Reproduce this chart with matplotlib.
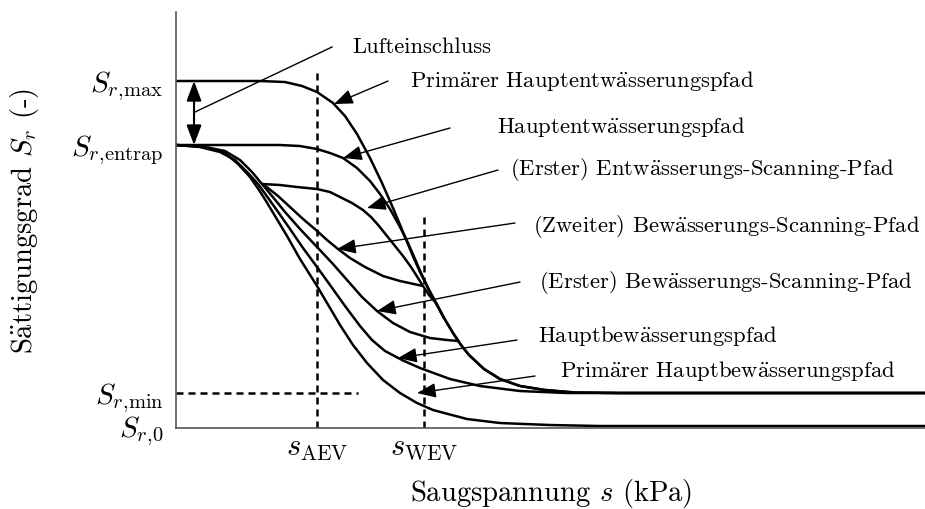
import numpy as np
import matplotlib
matplotlib.use("Agg")
import matplotlib.pyplot as plt
import matplotlib.transforms as mtransforms

plt.rcParams['font.family'] = ['cmr10', 'DejaVu Serif']
plt.rcParams['mathtext.fontset'] = 'cm'
plt.rcParams['axes.unicode_minus'] = False

# schematic units: suction s and degree of saturation Sr
sr_max, sr_entrap, sr_min, sr_0 = 3.47, 2.83, 0.35, 0.0
s_aev, s_wev = 1.41, 2.48

# common lower part of both main drainage paths
bundle_s = [2.52, 2.60, 2.68, 2.77, 2.85, 2.93, 3.08, 3.24, 3.44, 3.69, 3.99, 4.44, 7.49]
bundle_sr = [1.40, 1.25, 1.10, 0.95, 0.83, 0.73, 0.59, 0.49, 0.42, 0.38, 0.355, 0.35, 0.35]

# primary main drainage
pd_s = [0, 0.84, 1.09, 1.26, 1.41, 1.57, 1.69, 1.81, 1.94, 2.06, 2.17, 2.27, 2.36, 2.44] + bundle_s
pd_sr = [3.47, 3.47, 3.46, 3.42, 3.36, 3.25, 3.12, 2.94, 2.70, 2.45, 2.20, 1.96, 1.74, 1.56] + bundle_sr

# main drainage
md_s = [0, 1.04, 1.24, 1.41, 1.54, 1.67, 1.81, 1.94, 2.04, 2.14, 2.24, 2.32, 2.39, 2.45] + bundle_s
md_sr = [2.83, 2.83, 2.82, 2.79, 2.75, 2.70, 2.60, 2.47, 2.34, 2.19, 2.01, 1.85, 1.69, 1.55] + bundle_sr

# first drainage scanning path
ds1_s = [0.86, 1.04, 1.21, 1.41, 1.54, 1.64, 1.76, 1.87, 1.95, 2.03, 2.11, 2.19, 2.27, 2.35, 2.42, 2.47, 2.53, 2.60, 2.68]
ds1_sr = [2.44, 2.43, 2.41, 2.39, 2.36, 2.31, 2.25, 2.18, 2.11, 2.02, 1.92, 1.82, 1.72, 1.61, 1.50, 1.42, 1.33, 1.25, 1.10]

# second wetting scanning path
ws2_s = [2.47, 2.24, 2.07, 1.89, 1.74, 1.62, 1.51, 1.40, 1.27, 1.14, 1.02, 0.92, 0.86]
ws2_sr = [1.42, 1.47, 1.52, 1.61, 1.70, 1.79, 1.88, 1.98, 2.09, 2.21, 2.32, 2.40, 2.44]

# first wetting scanning path
ws1_s = [0, 0.29, 0.49, 0.64, 0.76, 0.86, 0.96, 1.09, 1.24, 1.41, 1.57, 1.71, 1.86, 2.01, 2.17, 2.34, 2.54, 2.71, 2.83]
ws1_sr = [2.83, 2.81, 2.77, 2.68, 2.56, 2.44, 2.32, 2.16, 1.99, 1.81, 1.64, 1.48, 1.31, 1.17, 1.05, 0.96, 0.90, 0.88, 0.87]

# main wetting
mw_s = [0, 0.24, 0.44, 0.59, 0.72, 0.82, 0.90, 1.00, 1.14, 1.27, 1.41, 1.54, 1.69, 1.84, 1.96, 2.09, 2.26, 2.44, 2.74, 3.04, 3.44, 3.91, 7.49]
mw_sr = [2.83, 2.81, 2.76, 2.68, 2.55, 2.44, 2.33, 2.19, 1.99, 1.80, 1.61, 1.43, 1.22, 1.02, 0.88, 0.77, 0.68, 0.60, 0.49, 0.42, 0.37, 0.35, 0.35]

# primary main wetting
pw_s = [0, 0.19, 0.34, 0.49, 0.62, 0.74, 0.83, 0.90, 0.99, 1.11, 1.24, 1.41, 1.54, 1.64, 1.77, 1.91, 2.07, 2.24, 2.41, 2.57, 2.91, 3.24, 3.74, 4.24, 7.49]
pw_sr = [2.83, 2.82, 2.80, 2.75, 2.64, 2.51, 2.38, 2.27, 2.12, 1.92, 1.69, 1.42, 1.20, 1.03, 0.83, 0.65, 0.48, 0.35, 0.25, 0.18, 0.09, 0.05, 0.03, 0.02, 0.02]

labels = ['Primärer Hauptentwässerungspfad', 'Hauptentwässerungspfad',
          '(Erster) Entwässerungs-Scanning-Pfad', '(Zweiter) Bewässerungs-Scanning-Pfad',
          '(Erster) Bewässerungs-Scanning-Pfad', 'Hauptbewässerungspfad',
          'Primärer Hauptbewässerungspfad']
label_pos = [(2.34, 3.47), (3.21, 3.01), (3.34, 2.59), (3.57, 2.02),
             (3.63, 1.46), (3.62, 0.92), (3.84, 0.57)]
arrow_tail = [(2.12, 3.47), (2.74, 3.00), (3.22, 2.58), (3.39, 2.05),
              (3.44, 1.46), (3.41, 0.88), (3.59, 0.52)]
arrow_tip = [(1.58, 3.24), (1.67, 2.70), (1.91, 2.20), (1.61, 1.79),
             (2.01, 1.17), (2.22, 0.70), (2.41, 0.35)]


def umlaut(t):
    # cmr10 has no ä, build it with a math accent in the same font
    return t.replace('ä', r'$\ddot{\mathrm{a}}$')


fig = plt.figure(figsize=(9.25, 5.09), dpi=100)
ax = fig.add_axes([0.1903, 0.1591, 0.8097, 0.8173])

lw = 1.8
for xs, ys in [(pd_s, pd_sr), (md_s, md_sr), (ds1_s, ds1_sr), (ws2_s, ws2_sr),
               (ws1_s, ws1_sr), (mw_s, mw_sr), (pw_s, pw_sr)]:
    ax.plot(xs, ys, color='black', lw=lw, solid_joinstyle='round', solid_capstyle='butt')

dash = dict(color='black', lw=1.8, dashes=(2.8, 2.0))
ax.plot([s_aev, s_aev], [sr_0, 3.55], **dash)
ax.plot([s_wev, s_wev], [sr_0, 2.16], **dash)
ax.plot([0, 1.82], [sr_min, sr_min], **dash)

head = dict(arrowstyle='-|>,head_length=1.15,head_width=0.45', color='black', lw=1.0,
            shrinkA=0, shrinkB=0, mutation_scale=10)
for txt, pos, tail, tip in zip(labels, label_pos, arrow_tail, arrow_tip):
    ax.annotate('', xy=tip, xytext=tail, arrowprops=head)
    ax.text(pos[0], pos[1], umlaut(txt), fontsize=16.3, va='center', ha='left')

# entrapped air
ax.annotate('', xy=(0.18, sr_max), xytext=(0.18, sr_entrap),
            arrowprops=dict(arrowstyle='<|-|>,head_length=1.2,head_width=0.45', color='black',
                            lw=1.5, shrinkA=0, shrinkB=0, mutation_scale=10))
ax.plot([0.19, 1.56], [3.16, 3.81], color='black', lw=1.0)
ax.text(1.76, 3.81, 'Lufteinschluss', fontsize=16.3, va='center', ha='left')

ax.set_xlim(0, 7.49)
ax.set_ylim(0, 4.16)
ax.set_yticks([sr_max, sr_entrap, sr_min, sr_0])
ax.set_yticklabels([r'$S_{r,\!\mathrm{max}}$', r'$S_{r,\!\mathrm{entrap}}$',
                    r'$S_{r,\!\mathrm{min}}$', r'$S_{r,\!0}$'], fontsize=21)
ax.set_xticks([s_aev, s_wev])
ax.set_xticklabels([r'$s_\mathrm{AEV}$', r'$s_\mathrm{WEV}$'], fontsize=22)
ax.tick_params(axis='y', length=0, pad=9)
ax.tick_params(axis='x', length=0, pad=5)
lift = mtransforms.ScaledTranslation(0, 2 / 100, fig.dpi_scale_trans)
lab0 = ax.get_yticklabels()[-1]
lab0.set_transform(lab0.get_transform() + lift)
for side in ['top', 'right']:
    ax.spines[side].set_visible(False)
for side in ['left', 'bottom']:
    ax.spines[side].set_color('#555555')
    ax.spines[side].set_linewidth(1.2)

fig.text(551 / 925, 1 - 493 / 509, r'Saugspannung $s$ (kPa)', fontsize=20.6, ha='center', va='center')
fig.text(25 / 925, 1 - 221 / 509, umlaut('Sättigungsgrad') + r' $S_r$ (-)', fontsize=20.6,
         ha='center', va='center', rotation=90)

fig.savefig('out.png', dpi=100)
